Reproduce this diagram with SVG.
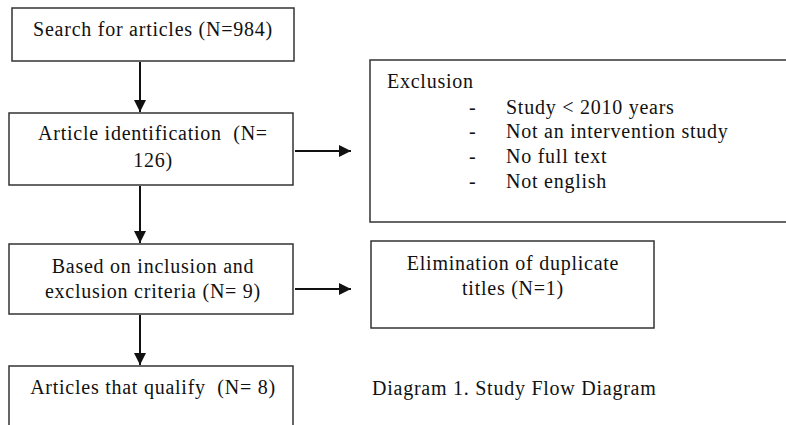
<svg xmlns="http://www.w3.org/2000/svg" width="786" height="425" viewBox="0 0 786 425">
<style>
  .box { fill: #fff; stroke: #333; stroke-width: 1.5; }
  .t { font-family: "Liberation Serif", "Times New Roman", serif; font-size: 20px; letter-spacing: 0.75px; fill: #111; }
  .c { text-anchor: middle; }
  .edge { stroke: #111; stroke-width: 2; fill: none; }
</style>
<defs>
  <marker id="ah" viewBox="0 0 10 10" refX="10" refY="5" markerWidth="6" markerHeight="6" markerUnits="strokeWidth" orient="auto">
    <path d="M0,0 L10,5 L0,10 Z" fill="#111"/>
  </marker>
</defs>
<rect width="786" height="425" fill="#fff"/>
<g id="connectors">
  <line class="edge" x1="140" y1="62" x2="140" y2="112" marker-end="url(#ah)"/>
  <line class="edge" x1="140" y1="186" x2="140" y2="243" marker-end="url(#ah)"/>
  <line class="edge" x1="140" y1="315" x2="140" y2="365" marker-end="url(#ah)"/>
  <line class="edge" x1="295" y1="151" x2="351" y2="151" marker-end="url(#ah)"/>
  <line class="edge" x1="295" y1="289" x2="351" y2="289" marker-end="url(#ah)"/>
</g>
<g id="search">
  <rect class="box" x="12" y="8" width="282" height="53"/>
  <text class="t c" x="153" y="36">Search for articles (N=984)</text>
</g>
<g id="identification">
  <rect class="box" x="9" y="113" width="284" height="72"/>
  <text class="t c" x="153" y="140" xml:space="preserve">Article identification  (N=</text>
  <text class="t c" x="153" y="167">126)</text>
</g>
<g id="exclusion">
  <rect class="box" x="370" y="60" width="430" height="162"/>
  <text class="t" x="387" y="88">Exclusion</text>
  <text class="t" x="469" y="114">-</text>
  <text class="t" x="506" y="114">Study &lt; 2010 years</text>
  <text class="t" x="469" y="138">-</text>
  <text class="t" x="506" y="138">Not an intervention study</text>
  <text class="t" x="469" y="163">-</text>
  <text class="t" x="506" y="163">No full text</text>
  <text class="t" x="469" y="188">-</text>
  <text class="t" x="506" y="188">Not english</text>
</g>
<g id="criteria">
  <rect class="box" x="9" y="244" width="284" height="70"/>
  <text class="t c" x="153" y="273">Based on inclusion and</text>
  <text class="t c" x="153" y="298">exclusion criteria (N= 9)</text>
</g>
<g id="duplicates">
  <rect class="box" x="371" y="241" width="283" height="87"/>
  <text class="t c" x="513" y="270">Elimination of duplicate</text>
  <text class="t c" x="513" y="295">titles (N=1)</text>
</g>
<g id="qualify">
  <rect class="box" x="9" y="366" width="284" height="80"/>
  <text class="t c" x="153" y="394" xml:space="preserve">Articles that qualify  (N= 8)</text>
</g>
<g id="caption">
  <text class="t" x="372" y="395">Diagram 1. Study Flow Diagram</text>
</g>
</svg>
